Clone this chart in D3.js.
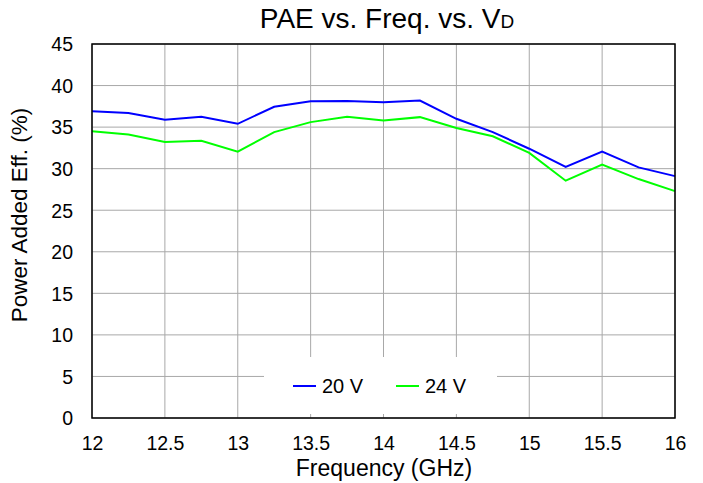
<!DOCTYPE html>
<html>
<head>
<meta charset="utf-8">
<script src="https://cdn.jsdelivr.net/npm/d3@7"></script>
<style>
  body { margin: 0; background: #fff; }
  text { font-family: "Liberation Sans", Arial, sans-serif; fill: #000; }
</style>
</head>
<body>
<svg width="703" height="483"></svg>
<script>
// frequency points (GHz)
const freqs = [12, 12.25, 12.5, 12.75, 13, 13.25, 13.5, 13.75, 14, 14.25, 14.5, 14.75, 15, 15.25, 15.5, 15.75, 16];
// PAE (%) per drain voltage
const pae20 = [36.9, 36.7, 35.9, 36.25, 35.4, 37.45, 38.1, 38.15, 38.0, 38.2, 36.0, 34.4, 32.4, 30.2, 32.05, 30.15, 29.1];
const pae24 = [34.5, 34.1, 33.2, 33.35, 32.05, 34.4, 35.6, 36.25, 35.8, 36.2, 34.9, 33.9, 31.9, 28.55, 30.5, 28.75, 27.3];
const xTicks = [12, 12.5, 13, 13.5, 14, 14.5, 15, 15.5, 16];
const yTicks = [0, 5, 10, 15, 20, 25, 30, 35, 40, 45];

const series = [
  { name: '20 V', values: pae20, color: '#0000ff' },
  { name: '24 V', values: pae24, color: '#00ff00' }
];

const svg = d3.select('svg');
const m = { left: 92, right: 675, top: 44, bottom: 418 };

const x = d3.scaleLinear().domain([12, 16]).range([m.left, m.right]);
const y = d3.scaleLinear().domain([0, 45]).range([m.bottom, m.top]);

// grid
svg.append('g')
  .selectAll('line.v')
  .data(xTicks)
  .join('line')
  .attr('x1', d => x(d)).attr('x2', d => x(d))
  .attr('y1', m.top).attr('y2', m.bottom)
  .style('stroke', '#a8a8a8').style('stroke-width', 1);

svg.append('g')
  .selectAll('line.h')
  .data(yTicks)
  .join('line')
  .attr('x1', m.left).attr('x2', m.right)
  .attr('y1', d => y(d)).attr('y2', d => y(d))
  .style('stroke', '#a8a8a8').style('stroke-width', 1);

// data lines
const line = d3.line()
  .x((d, i) => x(freqs[i]))
  .y(d => y(d));

svg.append('g')
  .selectAll('path')
  .data(series)
  .join('path')
  .attr('d', d => line(d.values))
  .style('fill', 'none')
  .style('stroke', d => d.color)
  .style('stroke-width', 2);

// legend box (white, hides grid)
const leg = svg.append('g');
leg.append('rect')
  .attr('x', 264).attr('y', 357)
  .attr('width', 233).attr('height', 57)
  .style('fill', '#fff');

const legX = [293, 396];
series.forEach(function(s, i) {
  leg.append('line')
    .attr('x1', legX[i]).attr('x2', legX[i] + 23)
    .attr('y1', 386).attr('y2', 386)
    .style('stroke', s.color).style('stroke-width', 2);
  leg.append('text')
    .attr('x', legX[i] + 29).attr('y', 393)
    .style('font-size', '20px')
    .text(s.name);
});

// frame
svg.append('rect')
  .attr('x', m.left).attr('y', m.top)
  .attr('width', m.right - m.left).attr('height', m.bottom - m.top)
  .style('fill', 'none')
  .style('stroke', '#000').style('stroke-width', 1.5);

// axes (labels only)
const xAxis = svg.append('g')
  .attr('transform', `translate(0,${m.bottom})`)
  .call(d3.axisBottom(x).tickValues(xTicks).tickSize(0).tickPadding(0).tickFormat(d3.format('')));
xAxis.select('.domain').remove();
xAxis.selectAll('text')
  .attr('y', 32).attr('dy', null)
  .style('font-size', '19.5px')
  .style('font-family', '"Liberation Sans", Arial, sans-serif');

const yAxis = svg.append('g')
  .attr('transform', `translate(${m.left},0)`)
  .call(d3.axisLeft(y).tickValues(yTicks).tickSize(0).tickPadding(0));
yAxis.select('.domain').remove();
yAxis.selectAll('text')
  .attr('x', -19).attr('dy', '0.35em')
  .style('font-size', '19.5px')
  .style('font-family', '"Liberation Sans", Arial, sans-serif');

// titles
const title = svg.append('text')
  .attr('x', 387).attr('y', 28)
  .attr('text-anchor', 'middle')
  .style('font-size', '28px');
title.append('tspan').text('PAE vs. Freq. vs. V');
title.append('tspan').text('D').style('font-size', '19px');

svg.append('text')
  .attr('x', 384).attr('y', 476)
  .attr('text-anchor', 'middle')
  .style('font-size', '23px')
  .text('Frequency (GHz)');

svg.append('text')
  .attr('transform', 'translate(27,215) rotate(-90)')
  .attr('text-anchor', 'middle')
  .style('font-size', '22.5px')
  .text('Power Added Eff. (%)');
</script>
</body>
</html>
